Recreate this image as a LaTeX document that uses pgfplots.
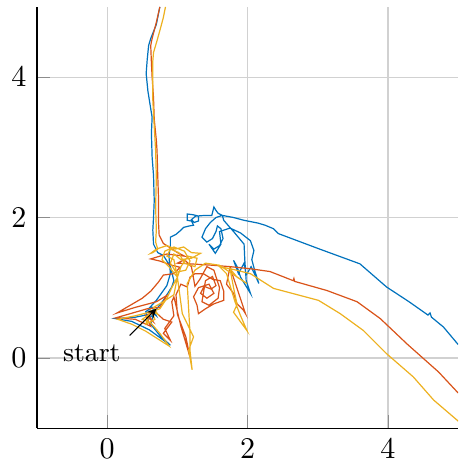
\documentclass[border=0pt]{standalone}
\usepackage{pgfplots}
\pgfplotsset{compat=1.18}
\definecolor{mblue}{rgb}{0,0.447,0.741}
\definecolor{mred}{rgb}{0.85,0.325,0.098}
\definecolor{myellow}{rgb}{0.929,0.694,0.125}
\begin{document}
\begin{tikzpicture}
\begin{axis}[
  scale only axis, width=140pt, height=140pt,
  xmin=-1, xmax=5, ymin=-1, ymax=5,
  axis x line*=bottom, axis y line*=left,
  axis line style={black},
  xtick={0,2,4}, ytick={0,2,4},
  xmajorgrids, ymajorgrids,
  grid style={color=black!18},
  tick align=inside,
  major tick style={color=black!45},
  every axis plot/.append style={line width=0.4pt},
]
\addplot[mblue] coordinates {
(0.75,5.0)(0.70,4.75)(0.62,4.55)(0.59,4.45)(0.57,4.25)(0.555,4.05)(0.58,3.8)(0.62,3.55)(0.64,3.43)(0.63,3.2)(0.64,2.86)(0.66,2.6)(0.67,2.24)(0.66,2.0)(0.65,1.82)(0.66,1.62)(0.72,1.50)(0.80,1.46)
(0.90,1.30)(0.95,1.10)(0.92,1.01)(0.80,0.82)(0.69,0.68)
(0.60,0.62)(0.40,0.58)(0.12,0.56)(0.35,0.52)(0.60,0.40)(0.90,0.18)(0.75,0.32)(0.62,0.48)(0.66,0.62)(0.58,0.55)(0.55,0.66)(0.64,0.72)(0.70,0.60)(0.59,0.70)(0.70,0.82)(0.85,1.03)(0.90,1.20)(0.88,1.45)
(0.90,1.60)(0.90,1.72)(0.98,1.76)(1.05,1.82)(1.09,1.86)(1.17,1.88)(1.23,1.89)(1.20,1.95)(1.14,1.96)(1.14,2.05)(1.22,2.04)(1.30,2.02)(1.30,1.95)(1.24,1.93)(1.20,1.97)(1.26,2.02)(1.40,2.03)(1.49,2.03)(1.52,2.15)(1.55,2.10)(1.58,2.06)(1.64,2.03)(1.55,2.0)(1.47,1.93)(1.40,1.84)(1.35,1.72)(1.42,1.65)(1.50,1.70)(1.55,1.80)(1.57,1.88)(1.62,1.84)(1.65,1.70)(1.60,1.60)(1.52,1.55)(1.45,1.62)(1.54,1.49)(1.62,1.62)(1.60,1.80)(1.75,1.85)(1.90,1.78)(2.04,1.67)(2.09,1.53)(2.06,1.40)(2.10,1.25)(2.16,1.06)(2.12,1.15)(2.05,1.30)(1.98,1.18)(1.95,1.35)(1.87,1.20)(1.80,1.39)(1.85,1.30)(1.90,1.15)(2.04,0.92)(1.98,1.10)(1.96,1.40)(1.95,1.62)(1.80,1.80)(1.66,1.96)(1.64,2.03)(1.80,2.00)(1.95,1.96)(2.15,1.92)(2.25,1.89)(2.37,1.84)(2.44,1.77)(3.00,1.56)(3.60,1.34)(3.98,1.01)(4.30,0.80)(4.57,0.61)(4.60,0.64)(4.62,0.58)(4.79,0.44)(5.0,0.19)
};
\addplot[mred] coordinates {
(0.75,5.0)(0.70,4.78)(0.64,4.55)(0.62,4.45)(0.63,4.2)(0.64,4.0)(0.66,3.7)(0.67,3.4)(0.70,3.1)(0.71,2.95)(0.72,2.6)(0.73,2.3)(0.73,1.95)(0.74,1.75)(0.80,1.63)(0.88,1.58)(1.00,1.50)(1.10,1.45)
(0.85,1.48)(0.62,1.41)(0.75,1.38)(0.92,1.32)(1.04,1.29)(0.95,1.20)(0.80,1.18)(0.73,1.08)(0.62,0.95)(0.50,0.85)(0.14,0.64)(0.40,0.72)(0.70,0.80)(0.85,0.89)(0.75,0.72)(0.57,0.70)(0.12,0.57)(0.40,0.55)(0.62,0.45)(0.55,0.60)(0.65,0.52)(0.58,0.62)(0.68,0.66)(0.80,0.55)(0.92,0.51)(0.80,0.35)(0.90,0.25)(0.82,0.42)(0.95,0.60)(0.92,0.80)(0.95,0.87)(1.05,0.45)(1.18,0.01)(1.12,0.30)(1.0,0.62)(0.98,0.90)(1.05,1.05)(1.14,1.01)
(1.18,1.15)(1.25,1.20)(1.37,1.20)(1.50,1.12)(1.61,1.10)(1.66,0.95)(1.66,0.82)(1.52,0.77)(1.40,0.70)(1.30,0.63)(1.28,0.75)(1.23,0.87)(1.30,1.00)(1.45,1.05)(1.52,0.92)(1.42,0.85)(1.33,0.92)(1.38,1.02)(1.48,0.98)(1.55,1.03)(1.50,1.16)(1.40,1.10)(1.35,0.80)(1.45,0.75)(1.58,0.85)(1.60,1.00)(1.52,1.25)(1.42,1.30)(1.32,1.12)(1.25,1.02)
(1.20,1.30)(1.10,1.40)(1.0,1.35)(1.18,1.34)(1.5,1.32)(1.75,1.30)(1.70,1.05)(1.80,0.92)(1.85,0.77)(1.94,0.68)(1.97,0.63)(1.88,0.90)(1.78,1.20)(1.75,1.30)(2.04,1.27)(2.32,1.23)(2.60,1.12)(2.65,1.10)(2.66,1.13)(2.67,1.09)(3.13,0.96)(3.56,0.80)(3.89,0.56)(4.27,0.20)(4.72,-0.20)(5.0,-0.50)
};
\addplot[myellow] coordinates {
(0.83,5.0)(0.80,4.85)(0.76,4.70)(0.71,4.52)(0.66,4.35)(0.65,4.23)(0.65,3.90)(0.65,3.67)(0.67,3.3)(0.69,2.95)(0.70,2.57)(0.69,2.15)(0.70,1.82)(0.69,1.65)(0.72,1.55)(0.65,1.50)(0.62,1.49)(0.70,1.55)(0.85,1.60)(0.97,1.55)(1.09,1.58)(1.20,1.50)(1.33,1.49)(1.20,1.42)(1.05,1.40)(0.95,1.48)(0.90,1.35)(0.98,1.22)(1.12,1.25)(1.18,1.38)(1.10,1.52)(0.95,1.58)(0.82,1.52)(0.78,1.40)(0.88,1.30)(1.0,1.15)
(1.05,1.30)(1.15,1.45)(1.28,1.42)(1.25,1.30)(1.10,1.35)(1.02,1.50)(0.90,1.55)(0.85,1.45)(0.95,1.40)(1.0,1.15)
(0.92,1.00)(0.85,0.85)(0.75,0.70)(0.60,0.65)(0.40,0.60)(0.15,0.55)(0.35,0.48)(0.55,0.38)(0.88,0.17)(0.75,0.35)(0.62,0.50)(0.50,0.55)(0.60,0.62)(0.55,0.48)(0.68,0.55)(0.62,0.68)(0.72,0.62)(0.66,0.72)(0.80,0.80)(0.95,0.90)(1.0,1.15)(1.07,0.63)(1.23,0.30)(1.16,0.11)(1.21,-0.17)(1.18,0.10)(1.18,0.35)(1.16,0.70)(1.14,1.06)(1.25,1.25)(1.40,1.35)(1.60,1.32)(1.99,1.06)(1.85,1.15)(1.75,1.27)(1.80,1.00)(1.85,0.76)(1.80,0.65)(1.99,0.39)(1.90,0.60)(1.82,0.80)(1.70,1.20)(1.60,1.30)(1.80,1.26)(2.04,1.20)(2.37,0.99)(3.01,0.82)(3.32,0.63)(3.65,0.39)(3.98,0.06)(4.36,-0.27)(4.65,-0.60)(5.0,-0.90)
};
\addplot[black, line width=0.35pt, -stealth] coordinates {(0.32,0.32)(0.70,0.70)};
\node[font=\small] at (axis cs:-0.22,0.07) {start};
\coordinate (ll) at (rel axis cs:0,0);
\coordinate (ur) at (rel axis cs:1,1);
\end{axis}
\pgfresetboundingbox
\path ([shift={(-12.3pt,-11.6pt)}]ll) rectangle ([shift={(0.3pt,2.3pt)}]ur);
\end{tikzpicture}
\end{document}
